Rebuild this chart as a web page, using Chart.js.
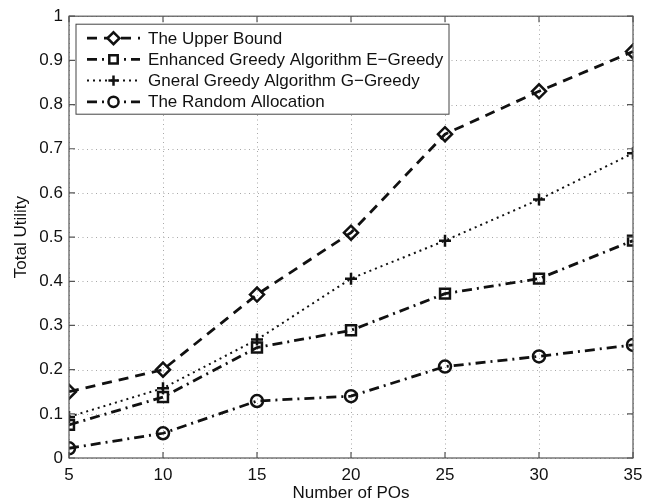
<!DOCTYPE html>
<html><head><meta charset="utf-8">
<script src="https://cdn.jsdelivr.net/npm/chart.js@4/dist/chart.umd.min.js"></script>
<style>html,body{margin:0;padding:0;background:#fff}</style>
</head><body>
<canvas id="c" width="653" height="504"></canvas>
<script>
const xValues = [5, 10, 15, 20, 25, 30, 35];
const upperBound = [0.15, 0.20, 0.37, 0.51, 0.733, 0.83, 0.92];
const eGreedy = [0.075, 0.138, 0.25, 0.289, 0.372, 0.406, 0.492];
const gGreedy = [0.093, 0.158, 0.268, 0.406, 0.492, 0.585, 0.69];
const randomAlloc = [0.022, 0.056, 0.129, 0.14, 0.207, 0.23, 0.256];
const seriesNames = ["The Upper Bound", "Enhanced Greedy Algorithm E\u2212Greedy", "Gneral Greedy Algorithm G\u2212Greedy", "The Random Allocation"];
const xTitle = "Number of POs";
const yTitle = "Total Utility";

const FONT = '"Liberation Sans", Arial, Helvetica, sans-serif';
const INK = '#111';

function pts(arr) { return xValues.map((x, i) => ({x: x, y: arr[i]})); }

const datasets = [
  {label: seriesNames[0], data: pts(upperBound), borderDash: [10, 7], pointStyle: 'rectRot', pointRadius: 7, borderWidth: 2.8},
  {label: seriesNames[1], data: pts(eGreedy), borderDash: [10, 5, 2, 5], pointStyle: 'rect', pointRadius: 7, borderWidth: 2.8},
  {label: seriesNames[2], data: pts(gGreedy), borderDash: [2, 4], pointStyle: 'cross', pointRadius: 6, borderWidth: 2},
  {label: seriesNames[3], data: pts(randomAlloc), borderDash: [10, 5, 2, 5], pointStyle: 'circle', pointRadius: 6, borderWidth: 2.8}
].map(d => Object.assign({
  borderColor: INK, backgroundColor: 'rgba(0,0,0,0)', pointBorderColor: INK,
  pointBackgroundColor: 'rgba(0,0,0,0)', pointBorderWidth: 2.5, tension: 0, fill: false
}, d));

const framePlugin = {
  id: 'frame',
  beforeDatasetsDraw(chart) {
    const {ctx, chartArea: a, scales} = chart;
    ctx.save();
    ctx.strokeStyle = '#a8a8a8';
    ctx.lineWidth = 1;
    ctx.setLineDash([1, 3.5]);
    ctx.beginPath();
    scales.x.ticks.forEach(t => {
      const px = Math.round(scales.x.getPixelForValue(t.value)) + 0.5;
      ctx.moveTo(px, a.bottom); ctx.lineTo(px, a.top);
    });
    scales.y.ticks.forEach(t => {
      const py = Math.round(scales.y.getPixelForValue(t.value)) + 0.5;
      ctx.moveTo(a.left, py); ctx.lineTo(a.right, py);
    });
    ctx.stroke();
    ctx.restore();
  },
  afterDatasetsDraw(chart) {
    const {ctx, chartArea: a, scales} = chart;
    ctx.save();
    ctx.strokeStyle = '#555';
    ctx.lineWidth = 1.2;
    ctx.setLineDash([]);
    ctx.strokeRect(a.left, a.top, a.right - a.left, a.bottom - a.top);
    const tl = 6;
    ctx.beginPath();
    scales.x.ticks.forEach(t => {
      const px = scales.x.getPixelForValue(t.value);
      ctx.moveTo(px, a.bottom); ctx.lineTo(px, a.bottom - tl);
      ctx.moveTo(px, a.top); ctx.lineTo(px, a.top + tl);
    });
    scales.y.ticks.forEach(t => {
      const py = scales.y.getPixelForValue(t.value);
      ctx.moveTo(a.left, py); ctx.lineTo(a.left + tl, py);
      ctx.moveTo(a.right, py); ctx.lineTo(a.right - tl, py);
    });
    ctx.stroke();

    // legend box
    const bx = a.left + 7, by = a.top + 8, bw = 373, bh = 90;
    ctx.fillStyle = '#fff';
    ctx.fillRect(bx, by, bw, bh);
    ctx.strokeStyle = '#444';
    ctx.lineWidth = 1;
    ctx.strokeRect(bx, by, bw, bh);
    ctx.font = '17px ' + FONT;
    ctx.textBaseline = 'middle';
    ctx.textAlign = 'left';
    chart.data.datasets.forEach((ds, i) => {
      const cy = by + 14 + i * 21.2;
      const x0 = bx + 11, x1 = bx + 64, xc = (x0 + x1) / 2;
      ctx.strokeStyle = INK;
      ctx.lineWidth = ds.borderWidth;
      ctx.setLineDash(ds.borderDash);
      ctx.beginPath(); ctx.moveTo(x0, cy); ctx.lineTo(x1, cy); ctx.stroke();
      ctx.setLineDash([]);
      ctx.lineWidth = ds.pointBorderWidth;
      ctx.fillStyle = '#fff';
      Chart.helpers.drawPoint(ctx, {pointStyle: ds.pointStyle, radius: ds.pointRadius * 0.85, rotation: 0, borderWidth: ds.pointBorderWidth}, xc, cy);
      ctx.fillStyle = INK;
      ctx.fillText(ds.label, bx + 72, cy + 1);
    });
    ctx.restore();
  }
};

new Chart(document.getElementById('c'), {
  type: 'line',
  data: {datasets: datasets},
  plugins: [framePlugin],
  options: {
    responsive: false,
    animation: false,
    layout: {padding: {top: 14, right: 20, left: 11, bottom: 0}},
    plugins: {legend: {display: false}, tooltip: {enabled: false}},
    scales: {
      x: {
        type: 'linear', min: 5, max: 35,
        ticks: {stepSize: 5, color: INK, font: {family: FONT, size: 17}, padding: 7},
        grid: {display: false, drawTicks: false},
        border: {display: false},
        title: {display: true, text: xTitle, color: INK, font: {family: FONT, size: 17}, padding: {top: 0, bottom: 0}},
        afterFit(s) { s.height = 46; }
      },
      y: {
        type: 'linear', min: 0, max: 1,
        ticks: {stepSize: 0.1, color: INK, font: {family: FONT, size: 17}, padding: 6,
          callback: v => (Math.abs(v) < 1e-9 ? '0' : (Math.abs(v - 1) < 1e-9 ? '1' : v.toFixed(1)))},
        grid: {display: false, drawTicks: false},
        border: {display: false},
        title: {display: true, text: yTitle, color: INK, font: {family: FONT, size: 17}, padding: {top: 0, bottom: 4}},
        afterFit(s) { s.width = 58; }
      }
    }
  }
});
</script>
</body></html>
